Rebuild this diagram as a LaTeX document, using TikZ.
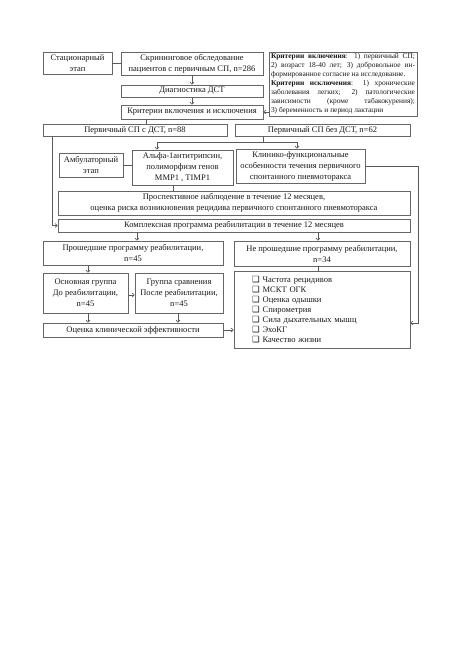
\documentclass[tikz,border=0pt]{standalone}
\usepackage{fontspec}
\setmainfont{Liberation Serif}
\newfontfamily\symfont{DejaVu Sans}
\usetikzlibrary{arrows.meta}
\newcommand{\chk}{{\symfont\fontsize{8.5}{10}\selectfont ❑}\hspace{3pt}}
\begin{document}
\begin{tikzpicture}[x=1pt,y=-1pt,
  box/.style={draw=black!60, line width=0.6pt, fill=white, inner sep=1pt, align=center,
    font=\fontsize{8.5}{11}\selectfont, text=black!90},
  ln/.style={draw=black!65, line width=0.6pt},
  arr/.style={ln, -{Straight Barb[length=2.2pt,width=4pt]}}]
\useasboundingbox (0,0) rectangle (459,650);
\fill[white] (0,0) rectangle (459,650);

% boxes
\node[box, minimum width=69pt, minimum height=22pt] (stat) at (77.5,63) {Стационарный\\этап};
\node[box, minimum width=142pt, minimum height=23pt] (scr) at (192,63.5) {Скрининговое обследование\\пациентов с первичным СП, n=286};
\node[box, minimum width=148pt, minimum height=64pt, text width=144pt, align=justify,
  inner sep=1.2pt, font=\fontsize{7.4}{9}\selectfont] (crit) at (343,84)
  {\textbf{Критерии включения}: 1) первичный СП;\linebreak
   2) возраст 18-40 лет; 3) добровольное ин-\linebreak
   формированное согласие на исследование.\par
   \textbf{Критерии исключения}: 1) хронические\linebreak
   заболевания легких; 2) патологические\linebreak
   зависимости (кроме табакокурения);\linebreak
   3) беременность и период лактации};
\node[box, minimum width=142pt, minimum height=12pt] (diag) at (192,91) {Диагностика ДСТ};
\node[box, minimum width=142pt, minimum height=14pt] (kri) at (192,112) {Критерии включения и исключения};
\node[box, minimum width=184pt, minimum height=12pt] (p1) at (135,130) {Первичный СП с ДСТ, n=88};
\node[box, minimum width=175pt, minimum height=12pt] (p2) at (322.5,130.5) {Первичный СП без ДСТ, n=62};
\node[box, minimum width=64pt, minimum height=24pt] (amb) at (91,165) {Амбулаторный\\этап};
\node[box, minimum width=101pt, minimum height=35pt] (alpha) at (182.5,167.5) {Альфа-1антитрипсин,\\полиморфизм генов\\MMP1 , TIMP1};
\node[box, minimum width=129pt, minimum height=34pt] (clin) at (300.5,166) {Клинико-функциональные\\особенности течения первичного\\спонтанного пневмоторакса};
\node[box, minimum width=352pt, minimum height=24pt] (prosp) at (234,203) {Проспективное наблюдение в течение 12 месяцев,\\оценка риска возникновения рецидива первичного спонтанного пневмоторакса};
\node[box, minimum width=352pt, minimum height=13pt] (kompl) at (234,225.5) {Комплексная программа реабилитации в течение 12 месяцев};
\node[box, minimum width=180pt, minimum height=24pt] (prosh) at (133,253) {Прошедшие программу реабилитации,\\n=45};
\node[box, minimum width=176pt, minimum height=25pt] (nepr) at (322,253.5) {Не прошедшие программу реабилитации,\\n=34};
\node[box, minimum width=85pt, minimum height=40pt] (osn) at (85.5,293) {Основная группа\\До реабилитации,\\n=45};
\node[box, minimum width=88pt, minimum height=40pt] (grp) at (179,293) {Группа сравнения\\После реабилитации,\\n=45};
\node[box, minimum width=180pt, minimum height=14pt] (ocen) at (133,330) {Оценка клинической эффективности};
\node[box, minimum width=176pt, minimum height=77pt, align=left, text width=140pt,
  font=\fontsize{8.5}{10}\selectfont] (list) at (322,309.5)
  {\chk Частота рецидивов\\ \chk МСКТ ОГК\\ \chk Оценка одышки\\ \chk Спирометрия\\
   \chk Сила дыхательных мышц\\ \chk ЭхоКГ\\ \chk Качество жизни};

% helper coordinates
\coordinate (xa) at (146,0);
\coordinate (xl) at (52,0);
\coordinate (j) at (263,142);
\coordinate (xal) at (157,0);
\coordinate (xcl) at (297,0);
\coordinate (xap) at (173,0);
\coordinate (xr) at (418,0);
\coordinate (yr) at (0,323);
\coordinate (xk1) at (137,0);
\coordinate (xk2) at (318,0);
\coordinate (xo) at (88,0);
\coordinate (xg) at (178,0);
\coordinate (yog) at (0,295);

% connectors
\draw[ln] (stat.east) -- (stat.east -| scr.west);
\draw[arr] (scr.south) -- (diag.north);
\draw[arr] (diag.south) -- (kri.north);
\draw[arr] (crit.west |- kri.east) -- (kri.east);
\draw[ln] (kri.south -| xa) -- (p1.north -| xa);
\draw[arr] (p1.south -| xl) |- (kompl.west);
\draw[ln] (p2.south -| j) -- (j);
\draw[ln] (j -| xal) -- (j -| xcl);
\draw[arr] (j -| xal) -- (alpha.north -| xal);
\draw[arr] (j -| xcl) -- (clin.north -| xcl);
\draw[ln] (amb.east) -- (amb.east -| alpha.west);
\draw[ln] (alpha.south -| xap) -- (prosp.north -| xap);
\draw[arr] (clin.east) -| (xr |- yr) -- (list.east |- yr);
\draw[arr] (kompl.south -| xk1) -- (prosh.north -| xk1);
\draw[arr] (kompl.south -| xk2) -- (nepr.north -| xk2);
\draw[ln] (nepr.south -| xk2) -- (list.north -| xk2);
\draw[arr] (prosh.south -| xo) -- (osn.north -| xo);
\draw[arr] (osn.east |- yog) -- (grp.west |- yog);
\draw[arr] (osn.south -| xo) -- (ocen.north -| xo);
\draw[arr] (grp.south -| xg) -- (ocen.north -| xg);
\draw[arr] (ocen.east) -- (ocen.east -| list.west);
\end{tikzpicture}
\end{document}
